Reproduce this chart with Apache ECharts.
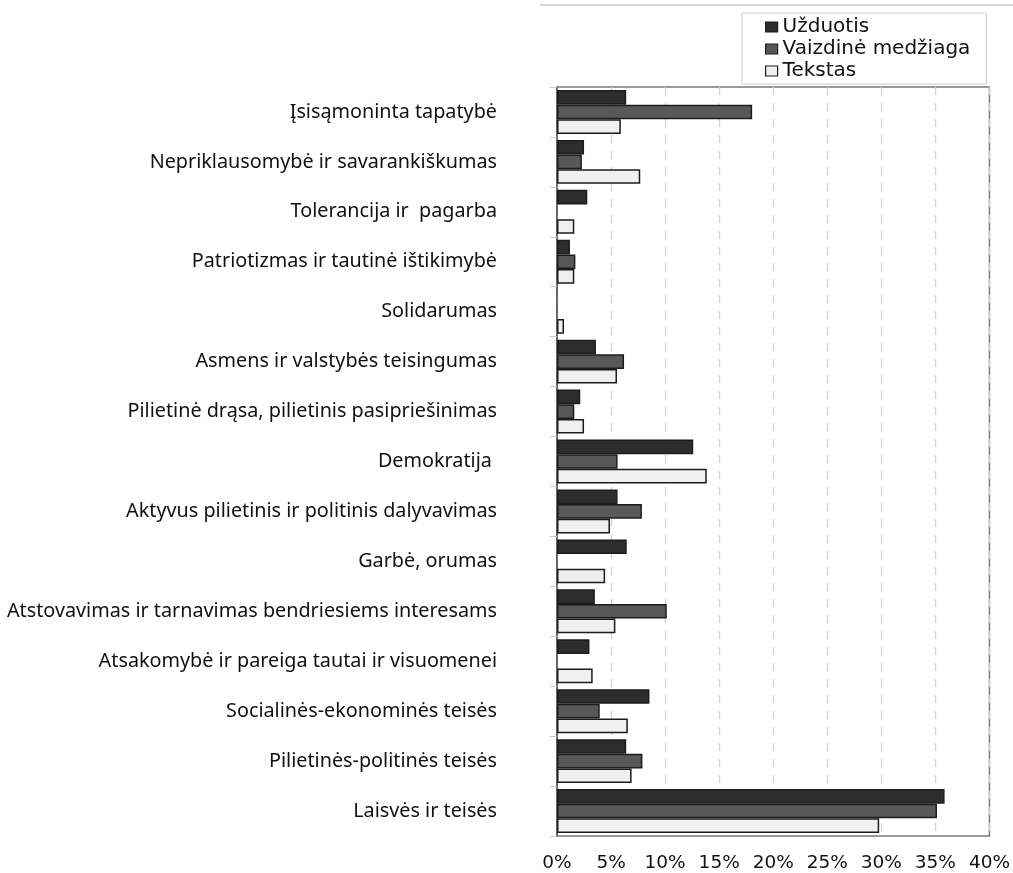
<!DOCTYPE html>
<html>
<head>
<meta charset="utf-8">
<script src="https://cdn.jsdelivr.net/npm/echarts@6/dist/echarts.min.js"></script>
<style>
  html, body { margin: 0; padding: 0; background: #fff; }
  #main { width: 1013px; height: 873px; }
</style>
</head>
<body>
<div id="main"></div>
<script>
// kategorijos (nuo viršaus į apačią)
var categories = [
    'Įsisąmoninta tapatybė',
    'Nepriklausomybė ir savarankiškumas',
    'Tolerancija ir  pagarba',
    'Patriotizmas ir tautinė ištikimybė',
    'Solidarumas',
    'Asmens ir valstybės teisingumas',
    'Pilietinė drąsa, pilietinis pasipriešinimas',
    'Demokratija ',
    'Aktyvus pilietinis ir politinis dalyvavimas',
    'Garbė, orumas',
    'Atstovavimas ir tarnavimas bendriesiems interesams',
    'Atsakomybė ir pareiga tautai ir visuomenei',
    'Socialinės-ekonominės teisės',
    'Pilietinės-politinės teisės',
    'Laisvės ir teisės'
];
var seriesNames = ['Užduotis', 'Vaizdinė medžiaga', 'Tekstas'];
var uzduotis = [6.4, 2.5, 2.8, 1.2, 0, 3.6, 2.15, 12.6, 5.6, 6.45, 3.5, 3.0, 8.55, 6.4, 35.85];
var vaizdine = [18.05, 2.3, 0, 1.7, 0, 6.2, 1.6, 5.6, 7.85, 0, 10.15, 0, 3.95, 7.9, 35.15];
var tekstas  = [5.9, 7.7, 1.6, 1.6, 0.65, 5.55, 2.5, 13.85, 4.9, 4.45, 5.4, 3.3, 6.55, 6.9, 29.8];
var xTicks = [0, 5, 10, 15, 20, 25, 30, 35, 40];

var chart = echarts.init(document.getElementById('main'));

var colors = ['#2d2d2d', '#585858', '#f0f0f0'];
var values = [uzduotis, vaizdine, tekstas];

var series = [];
for (var i = 0; i < seriesNames.length; i++) {
    series.push({
        name: seriesNames[i],
        type: 'bar',
        // nulinės reikšmės nepiešiamos (kitaip matosi rėmelio brūkšnys)
        data: values[i].map(function (v) { return v === 0 ? '-' : v; }),
        barGap: '0%',
        barCategoryGap: '12%',
        itemStyle: {
            color: colors[i],
            borderColor: '#1c1c1c',
            borderWidth: 1.5
        },
        emphasis: { disabled: true }
    });
}

var option = {
    animation: false,
    backgroundColor: '#fff',
    legend: {
        orient: 'vertical',
        left: 742,
        top: 13,
        width: 250,
        padding: [4, 16, 3, 23],
        itemGap: 2,
        itemWidth: 12,
        itemHeight: 10,
        icon: 'rect',
        borderColor: '#cfcfcf',
        borderWidth: 1,
        data: seriesNames.map(function (n, k) {
            return { name: n, itemStyle: { color: colors[k], borderColor: '#1c1c1c', borderWidth: 1.2 } };
        }),
        textStyle: {
            fontFamily: 'DejaVu Sans',
            fontSize: 20,
            color: '#111',
            padding: [0, 0, 0, 0]
        }
    },
    grid: {
        left: 557,
        right: 23,
        top: 87,
        bottom: 36,
        show: true,
        borderColor: '#7a7a7a',
        borderWidth: 1.5
    },
    xAxis: {
        type: 'value',
        min: 0,
        max: 40,
        interval: 5,
        axisLine: { show: false },
        axisTick: { show: false },
        splitLine: {
            show: true,
            lineStyle: { color: '#cfcfcf', type: [8, 8], width: 1.2 }
        },
        axisLabel: {
            formatter: function (v) { return xTicks.indexOf(v) >= 0 ? v + '%' : ''; },
            fontFamily: 'DejaVu Sans',
            fontSize: 18.5,
            color: '#111',
            margin: 18
        }
    },
    yAxis: {
        type: 'category',
        data: categories,
        inverse: true,
        axisLine: { show: true, lineStyle: { color: '#555', width: 1.5 } },
        axisTick: { show: true, length: 7, lineStyle: { color: '#c8c8c8' } },
        splitLine: { show: false },
        axisLabel: {
            fontFamily: 'Noto Sans',
            fontSize: 19.8,
            color: '#111',
            margin: 60
        }
    },
    graphic: [{
        type: 'line',
        shape: { x1: 540, y1: 5, x2: 1013, y2: 5 },
        style: { stroke: '#c8c8c8', lineWidth: 1.5 }
    }],
    series: series
};

chart.setOption(option);
</script>
</body>
</html>
